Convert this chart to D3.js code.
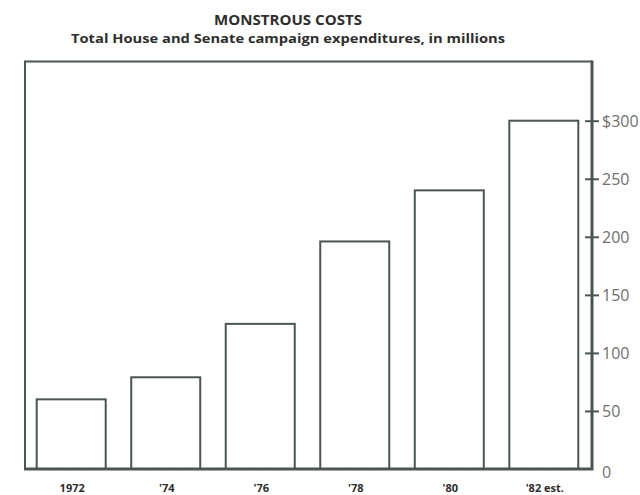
<!DOCTYPE html>
<html>
<head>
<meta charset="utf-8">
<script src="https://d3js.org/d3.v7.min.js"></script>
<style>
  body { margin: 0; background: #fff; }
  text { font-family: "Open Sans", sans-serif; }
</style>
</head>
<body>
<div id="chart"></div>
<script>
// data
const years = ['1972', "'74", "'76", "'78", "'80", "'82 est."];
const costs = [60, 79, 125, 196, 240, 300];
const yTicks = [0, 50, 100, 150, 200, 250, 300];

const width = 640, height = 495;
const ink = '#4b5551';

const svg = d3.select('#chart').append('svg')
    .attr('width', width).attr('height', height);

// titles
svg.append('text')
    .attr('x', 288).attr('y', 25)
    .attr('text-anchor', 'middle')
    .attr('textLength', 148).attr('lengthAdjust', 'spacingAndGlyphs')
    .style('font-size', '13.5px').style('font-weight', 700).style('fill', '#2e2e2e')
    .text('MONSTROUS COSTS');
svg.append('text')
    .attr('x', 288).attr('y', 43)
    .attr('text-anchor', 'middle')
    .attr('textLength', 434).attr('lengthAdjust', 'spacingAndGlyphs')
    .style('font-size', '13px').style('font-weight', 700).style('fill', '#2e2e2e')
    .text('Total House and Senate campaign expenditures, in millions');

// frame
const frame = {left: 25, top: 61.5, right: 592, bottom: 469};

const x = d3.scaleBand()
    .domain(years)
    .range([36.7, 578.3])
    .paddingInner(0.27)
    .paddingOuter(0);

const y = d3.scaleLinear()
    .domain([0, 300])
    .range([frame.bottom, 120.7]);

// bars
svg.append('g').selectAll('rect')
    .data(costs)
    .join('rect')
    .attr('x', (d, i) => x(years[i]))
    .attr('y', d => y(d))
    .attr('width', x.bandwidth())
    .attr('height', d => y(0) - y(d))
    .attr('fill', '#fff')
    .attr('stroke', ink)
    .attr('stroke-width', 2);

// left + top of the box
svg.append('path')
    .attr('d', `M${frame.left},${frame.bottom} V${frame.top} H${frame.right}`)
    .attr('fill', 'none').attr('stroke', ink).attr('stroke-width', 2);
// bottom + right, a bit heavier
svg.append('path')
    .attr('d', `M${frame.left - 1},${frame.bottom} H${frame.right} V${frame.top - 1}`)
    .attr('fill', 'none').attr('stroke', ink).attr('stroke-width', 3);

// right axis with ticks crossing the line
const axis = svg.append('g')
    .attr('transform', `translate(${frame.right},0)`)
    .call(d3.axisRight(y)
        .tickValues(yTicks)
        .tickSize(7)
        .tickPadding(3)
        .tickFormat(d => d === 300 ? '$300' : d));
axis.select('.domain').remove();
axis.selectAll('.tick line')
    .attr('x1', -7).attr('x2', 7)
    .attr('stroke', ink).attr('stroke-width', 2)
    .filter(d => d === 0).remove();
axis.selectAll('.tick text')
    .attr('dy', '0.36em')
    .style('font-size', '16px').style('fill', '#6f6f6f')
    .style('font-family', '"Open Sans", sans-serif');
axis.selectAll('.tick').filter(d => d === 0).select('text').attr('dy', '0.5em');

// category labels
svg.append('g').selectAll('text')
    .data(years)
    .join('text')
    .attr('x', d => x(d) + x.bandwidth() / 2 + 1)
    .attr('y', 492)
    .attr('text-anchor', 'middle')
    .style('font-size', '11px').style('font-weight', 700).style('fill', '#2e2e2e')
    .text(d => d);
</script>
</body>
</html>
